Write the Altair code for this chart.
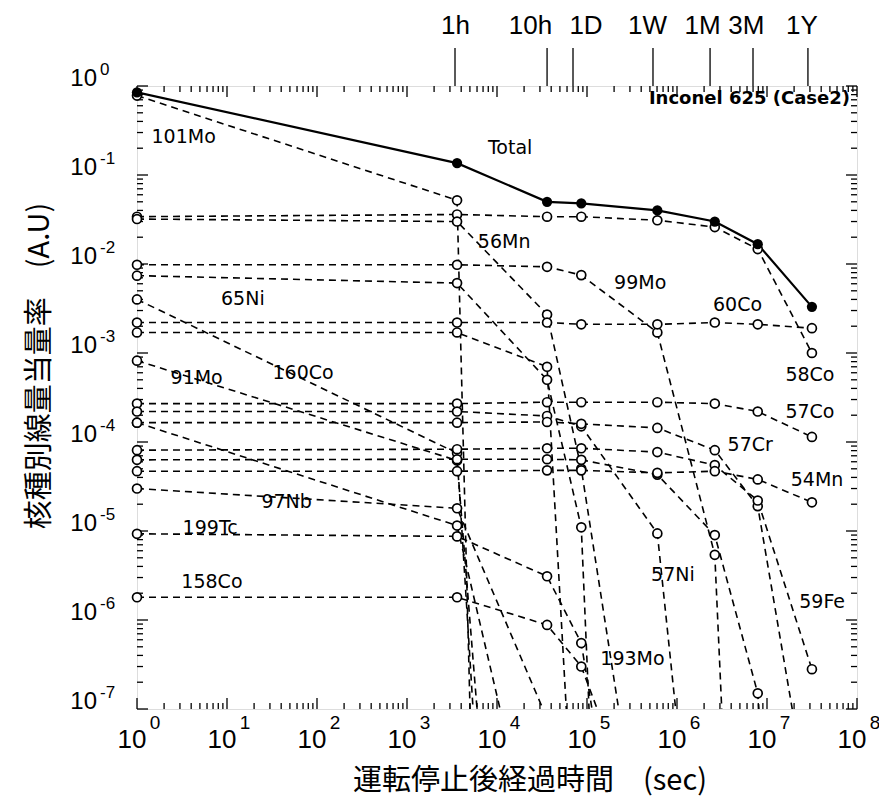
import altair as alt
import pandas as pd

# ---------------- data ----------------
times = [1, 3600, 36000, 86400, 604800, 2.63e6, 7.89e6, 3.156e7]

total = [0.85, 0.136, 0.050, 0.048, 0.040, 0.030, 0.0167, 0.0033]

mo101 = [0.78, 0.052, 1e-41, None, None, None, None, None]
co58 = [0.034, 0.036, 0.034, 0.034, 0.031, 0.026, 0.0147, 0.0010]
mn56 = [0.032, 0.030, 0.0027, 5e-5, 1.6e-10, None, None, None]
mo99 = [0.0098, 0.0098, 0.0093, 0.0075, 0.0017, 5.4e-6, 1e-16, None]
ni65 = [0.0074, 0.0061, 5e-4, 1.1e-5, 1e-25, None, None, None]
co160 = [0.0040, 7.5e-5, 5e-21, None, None, None, None, None]
co60 = [0.0022, 0.0022, 0.0022, 0.0021, 0.0021, 0.0022, 0.0021, 0.0019]
nuc_a = [0.0017, 0.0017, 7e-4, 1e-10, None, None, None, None]
mo91 = [8.2e-4, 6.2e-5, 1.6e-17, None, None, None, None, None]
co57 = [2.7e-4, 2.7e-4, 2.8e-4, 2.8e-4, 2.8e-4, 2.7e-4, 2.2e-4, 1.14e-4]
ni57 = [2.2e-4, 2.2e-4, 1.96e-4, 1.5e-4, 9.4e-6, 6e-12, None, None]
cr57 = [1.65e-4, 1.65e-4, 1.68e-4, 1.6e-4, 1.44e-4, 8.1e-5, 1.9e-5, 5e-9]
nuc_b = [1.65e-4, 1.15e-5, 5.6e-10, None, None, None, None, None]
fe59 = [8.1e-5, 8.3e-5, 8.5e-5, 8.5e-5, 7.7e-5, 5.5e-5, 2.2e-5, 2.8e-7]
nuc_c = [6.3e-5, 6.4e-5, 6.4e-5, 6.3e-5, 4.3e-5, 9e-6, 1.5e-7, 1.5e-15]
mn54 = [4.7e-5, 4.7e-5, 4.8e-5, 4.8e-5, 4.5e-5, 4.7e-5, 3.8e-5, 2.1e-5]
nb97 = [3.0e-5, 1.8e-5, 7.8e-8, None, None, None, None, None]
tc199 = [9.3e-6, 8.7e-6, 3.1e-6, 5.5e-7, 3e-12, None, None, None]
co158 = [1.8e-6, 1.8e-6, 8.8e-7, 3e-7, 1.6e-9, None, None, None]

series = [
    ("101Mo", mo101), ("58Co", co58), ("56Mn", mn56), ("99Mo", mo99),
    ("65Ni", ni65), ("160Co", co160), ("60Co", co60), ("a", nuc_a),
    ("91Mo", mo91), ("57Co", co57), ("57Ni", ni57), ("57Cr", cr57),
    ("b", nuc_b), ("59Fe", fe59), ("c", nuc_c), ("54Mn", mn54),
    ("97Nb", nb97), ("199Tc", tc199), ("158Co", co158),
]

label_text = ["Total", "101Mo", "56Mn", "99Mo", "65Ni", "160Co", "91Mo",
              "60Co", "58Co", "57Co", "57Cr", "54Mn", "57Ni", "59Fe",
              "97Nb", "199Tc", "158Co", "193Mo"]
label_t = [1.4e4, 3.3, 1.2e4, 3.9e5, 15, 70, 4.6,
           4.7e6, 3.0e7, 3.0e7, 6.5e6, 3.6e7, 9.0e5, 4.1e7,
           46, 6.5, 6.8, 3.2e5]
label_v = [0.2, 0.27, 0.0177, 0.0061, 0.0040, 6.0e-4, 5.2e-4,
           0.0035, 5.6e-4, 2.2e-4, 9.3e-5, 3.7e-5, 3.2e-6, 1.6e-6,
           2.1e-5, 1.07e-5, 2.7e-6, 3.6e-7]

top_labels = ["1h", "10h", "1D", "1W", "1M", "3M", "1Y"]
top_tick_t = [3415, 36000, 69900, 5.41e5, 2.33e6, 6.99e6, 2.85e7]
top_label_t = [3460, 23560, 97500, 4.7e5, 1.92e6, 5.9e6, 2.45e7]

y_major = [1, 1e-1, 1e-2, 1e-3, 1e-4, 1e-5, 1e-6, 1e-7]
y_exp = ["0", "-1", "-2", "-3", "-4", "-5", "-6", "-7"]
x_major = [1, 1e1, 1e2, 1e3, 1e4, 1e5, 1e6, 1e7, 1e8]
x_exp = ["0", "1", "2", "3", "4", "5", "6", "7", "8"]
y_minor = [m * 10.0 ** k for k in range(-7, 0) for m in range(2, 10)]
x_minor = [m * 10.0 ** k for k in range(0, 8) for m in range(2, 10)]

x_title = "運転停止後経過時間　(sec)"
y_title = "核種別線量当量率　(A.U)"
case_title = "Inconel 625 (Case2)"

# ---------------- chart ----------------
W, H = 720, 623
FONT = "Liberation Sans"
LFONT = "DejaVu Sans"
JP = "Noto Sans CJK JP"
xs = alt.Scale(type="log", domain=[1, 1e8], nice=False)
ys = alt.Scale(type="log", domain=[1e-7, 1], nice=False)

rows = []
for name, vals in series:
    for t, v in zip(times, vals):
        if v is not None:
            rows.append({"name": name, "t": t, "v": v})
df = pd.DataFrame(rows)
df_total = pd.DataFrame({"t": times, "v": total})

X = alt.X("t:Q", scale=xs, axis=None)
Y = alt.Y("v:Q", scale=ys, axis=None)

dashed = alt.Chart(df).mark_line(
    color="black", strokeWidth=1.6, strokeDash=[7, 5], clip=True
).encode(x=X, y=Y, detail="name:N", order="t:Q")

open_pts = alt.Chart(df).transform_filter(alt.datum.v >= 1e-7).mark_point(
    shape="circle", size=80, filled=True, fill="white", stroke="black",
    strokeWidth=1.7, opacity=1
).encode(x=X, y=Y)

total_line = alt.Chart(df_total).mark_line(
    color="black", strokeWidth=2.2, clip=True
).encode(x=X, y=Y, order="t:Q")
total_pts = alt.Chart(df_total).mark_point(
    shape="circle", size=105, filled=True, color="black", opacity=1
).encode(x=X, y=Y)


def yticks(vals, length, right=False):
    d = pd.DataFrame({"v": vals})
    x0 = W if right else 0
    x1 = W - length if right else length
    return alt.Chart(d).mark_rule(color="black", strokeWidth=1.3).encode(
        y=Y, x=alt.value(x0), x2=alt.value(x1))


def xticks(vals, length, top=False):
    d = pd.DataFrame({"t": vals})
    y0 = 0 if top else H
    y1 = length if top else H - length
    return alt.Chart(d).mark_rule(color="black", strokeWidth=1.3).encode(
        x=X, y=alt.value(y0), y2=alt.value(y1))


ticks = [yticks(y_major, 11), yticks(y_minor, 6), yticks(y_major, 11, True),
         yticks(y_minor, 6, True), xticks(x_major, 11), xticks(x_minor, 6),
         xticks(x_major, 11, True), xticks(x_minor, 6, True)]

ylab_df = pd.DataFrame({"v": y_major, "e": y_exp, "b": ["10"] * len(y_major)})
ylab = alt.Chart(ylab_df).mark_text(
    font=FONT, fontSize=24, align="right", baseline="middle", dy=-7, color="black"
).encode(y=Y, x=alt.value(-40), text="b:N")
yexp = alt.Chart(ylab_df).mark_text(
    font=FONT, fontSize=17, align="left", baseline="middle", dy=-16, color="black"
).encode(y=Y, x=alt.value(-37), text="e:N")

xlab_df = pd.DataFrame({"t": x_major, "e": x_exp, "b": ["10"] * len(x_major)})
xlab = alt.Chart(xlab_df).mark_text(
    font=FONT, fontSize=26, align="center", baseline="middle", dx=-5, color="black"
).encode(x=X, y=alt.value(H + 31), text="b:N")
xexp = alt.Chart(xlab_df).mark_text(
    font=FONT, fontSize=19, align="center", baseline="middle", dx=18, color="black"
).encode(x=X, y=alt.value(H + 14), text="e:N")

top_lab_df = pd.DataFrame({"t": top_label_t, "s": top_labels})
top_txt = alt.Chart(top_lab_df).mark_text(
    font=FONT, fontSize=26, align="center", baseline="middle", color="black"
).encode(x=X, y=alt.value(-60), text="s:N")
top_tk_df = pd.DataFrame({"t": top_tick_t})
top_tk = alt.Chart(top_tk_df).mark_rule(color="black", strokeWidth=1.3).encode(
    x=X, y=alt.value(-38), y2=alt.value(0))

lab_df = pd.DataFrame({"t": label_t, "v": label_v, "s": label_text})
labels = alt.Chart(lab_df).mark_text(
    font=LFONT, fontSize=19, align="center", baseline="middle", color="black"
).encode(x=X, y=Y, text="s:N")

inc_df = pd.DataFrame({"s": [case_title]})
inconel = alt.Chart(inc_df).mark_text(
    font=LFONT, fontSize=18, fontWeight="bold", align="right", baseline="middle",
    color="black"
).encode(x=alt.value(W - 7), y=alt.value(13), text="s:N")

xt_df = pd.DataFrame({"s": [x_title]})
xtitle = alt.Chart(xt_df).mark_text(
    font=JP, fontSize=29, align="center", baseline="middle", color="black"
).encode(x=alt.value(393), y=alt.value(H + 72), text="s:N")

yt_df = pd.DataFrame({"s": [y_title]})
ytitle = alt.Chart(yt_df).mark_text(
    font=JP, fontSize=29, align="center", baseline="middle", angle=270,
    color="black"
).encode(x=alt.value(-97), y=alt.value(280), text="s:N")

chart = alt.layer(
    dashed, total_line, *ticks, open_pts, total_pts,
    ylab, yexp, xlab, xexp, top_txt, top_tk, labels, inconel, xtitle, ytitle
).properties(
    width=W, height=H,
    autosize=alt.AutoSizeParams(type="none"),
    padding={"left": 129, "top": 78, "right": 22, "bottom": 88},
).configure_view(stroke="black", strokeWidth=1.6).configure(background="white")

chart.save("out.html", embed_options={"renderer": "svg", "actions": False})
